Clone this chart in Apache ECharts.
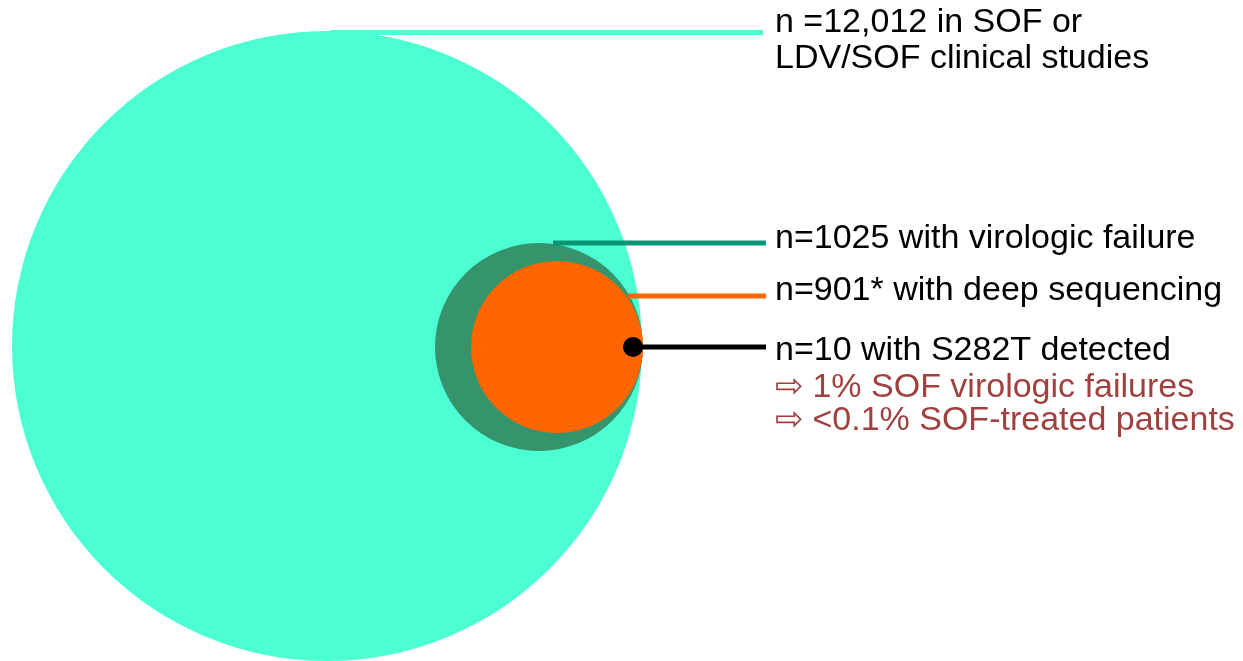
<!DOCTYPE html>
<html>
<head>
<meta charset="utf-8">
<script src="https://cdn.jsdelivr.net/npm/echarts@6/dist/echarts.min.js"></script>
<style>
  html, body { margin: 0; padding: 0; background: #fff; }
  #chart { width: 1243px; height: 661px; }
</style>
</head>
<body>
<div id="chart"></div>
<script>
// circles: [centre x, centre y, radius] in picture units
const circleNames = ['SOF or LDV/SOF studies', 'virologic failure', 'deep sequencing', 'S282T detected'];
const circleValues = [
  [327, 346, 315],
  [539, 347, 104],
  [557, 347, 86],
  [633, 347, 10]
];
const circleColors = ['#4bffd3', '#35946c', '#ff6600', '#000000'];

// leader lines: [x start, y, x end]
const leaderValues = [
  [330, 32.5, 763],
  [553, 243, 766],
  [628, 296, 766],
  [633, 347, 766]
];
const leaderColors = ['#4bffd3', '#0a9676', '#ff6600', '#000000'];

// label texts, with the y of each line's middle
const labelTexts = [
  'n =12,012 in SOF or',
  'LDV/SOF clinical studies',
  'n=1025 with virologic failure',
  'n=901* with deep sequencing',
  'n=10 with S282T detected',
  '\u21e8 1% SOF virologic failures',
  '\u21e8 <0.1% SOF-treated patients'
];
const labelY = [23, 59, 239, 291, 351, 388, 421];
const labelColors = ['#000', '#000', '#000', '#000', '#000', '#a0403f', '#a0403f'];
const labelX = 775;

const chart = echarts.init(document.getElementById('chart'));

const option = {
  animation: false,
  backgroundColor: '#ffffff',
  grid: { left: 0, right: 0, top: 0, bottom: 0 },
  xAxis: { type: 'value', min: 0, max: 1243, show: false },
  yAxis: { type: 'value', min: 0, max: 661, inverse: true, show: false },
  series: [
    {
      name: 'circles',
      type: 'custom',
      data: circleValues.map((c, i) => ({ name: circleNames[i], value: c })),
      renderItem: function (params, api) {
        const p = api.coord([api.value(0), api.value(1)]);
        const r = api.size([api.value(2), 0])[0];
        return {
          type: 'circle',
          shape: { cx: p[0], cy: p[1], r: r },
          style: { fill: circleColors[params.dataIndex] }
        };
      },
      z: 1
    },
    {
      name: 'leaders',
      type: 'custom',
      data: leaderValues,
      renderItem: function (params, api) {
        const a = api.coord([api.value(0), api.value(1)]);
        const b = api.coord([api.value(2), api.value(1)]);
        return {
          type: 'line',
          shape: { x1: a[0], y1: a[1], x2: b[0], y2: b[1] },
          style: { stroke: leaderColors[params.dataIndex], lineWidth: 5 }
        };
      },
      z: 2
    },
    {
      name: 'labels',
      type: 'custom',
      data: labelY.map((y, i) => [labelX, y]),
      renderItem: function (params, api) {
        const p = api.coord([api.value(0), api.value(1)]);
        return {
          type: 'text',
          x: p[0],
          y: p[1],
          style: {
            text: labelTexts[params.dataIndex],
            fill: labelColors[params.dataIndex],
            font: '34px "Liberation Sans", Arial, sans-serif',
            textAlign: 'left',
            textVerticalAlign: 'middle'
          }
        };
      },
      z: 3
    }
  ]
};

chart.setOption(option);
</script>
</body>
</html>
